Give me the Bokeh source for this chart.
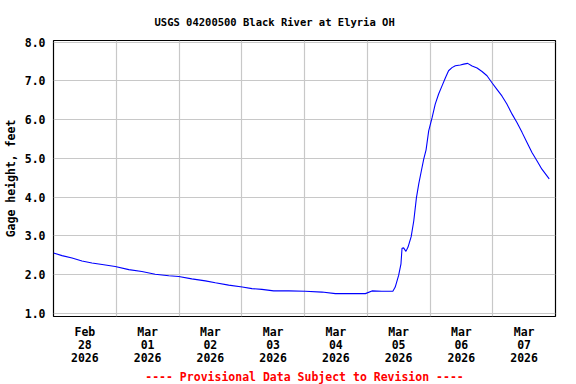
import pandas as pd
from bokeh.plotting import figure
from bokeh.models import Range1d, FixedTicker, ColumnDataSource
from bokeh.embed import file_html
from bokeh.resources import INLINE

# ---- data ----
times = [
    "2026-02-28 00:00", "2026-02-28 03:15", "2026-02-28 07:06", "2026-02-28 10:54",
    "2026-02-28 14:42", "2026-02-28 18:36", "2026-02-28 23:36", "2026-03-01 04:48",
    "2026-03-01 09:48", "2026-03-01 14:54", "2026-03-01 20:06", "2026-03-01 23:54",
    "2026-03-02 04:54", "2026-03-02 10:06", "2026-03-02 13:54", "2026-03-02 19:00",
    "2026-03-03 00:12", "2026-03-03 03:54", "2026-03-03 07:42", "2026-03-03 12:12",
    "2026-03-03 18:00", "2026-03-04 00:18", "2026-03-04 06:42", "2026-03-04 11:48",
    "2026-03-04 18:12", "2026-03-04 23:18", "2026-03-05 01:48", "2026-03-05 05:36",
    "2026-03-05 09:48", "2026-03-05 10:42", "2026-03-05 12:00", "2026-03-05 12:54",
    "2026-03-05 13:18", "2026-03-05 13:54", "2026-03-05 14:48", "2026-03-05 15:36",
    "2026-03-05 16:48", "2026-03-05 17:48", "2026-03-05 18:48", "2026-03-05 19:42",
    "2026-03-05 20:42", "2026-03-05 21:36", "2026-03-05 22:30", "2026-03-05 23:30",
    "2026-03-06 00:48", "2026-03-06 02:00", "2026-03-06 03:18", "2026-03-06 04:36",
    "2026-03-06 05:54", "2026-03-06 07:06", "2026-03-06 08:24", "2026-03-06 09:42",
    "2026-03-06 11:36", "2026-03-06 12:54", "2026-03-06 14:24", "2026-03-06 16:06",
    "2026-03-06 18:00", "2026-03-06 19:54", "2026-03-06 21:48", "2026-03-06 23:42",
    "2026-03-07 01:36", "2026-03-07 03:30", "2026-03-07 05:24", "2026-03-07 07:24",
    "2026-03-07 09:18", "2026-03-07 11:12", "2026-03-07 13:06", "2026-03-07 15:00",
    "2026-03-07 16:54", "2026-03-07 18:48", "2026-03-07 21:36",
]
gage_ft = [
    2.56, 2.49, 2.43, 2.35,
    2.30, 2.26, 2.21, 2.13,
    2.08, 2.01, 1.97, 1.95,
    1.89, 1.84, 1.79, 1.73,
    1.68, 1.64, 1.62, 1.58,
    1.58, 1.57, 1.55, 1.51,
    1.51, 1.51, 1.58, 1.57,
    1.57, 1.68, 1.98, 2.28,
    2.68, 2.69, 2.60, 2.71,
    2.98, 3.39, 3.98, 4.34,
    4.68, 4.98, 5.22, 5.71,
    6.05, 6.40, 6.66, 6.87,
    7.08, 7.26, 7.34, 7.39,
    7.41, 7.43, 7.45, 7.38,
    7.33, 7.24, 7.13, 6.95,
    6.78, 6.61, 6.40, 6.14,
    5.92, 5.67, 5.41, 5.15,
    4.94, 4.72, 4.47,
]
days = ["2026-02-28", "2026-03-01", "2026-03-02", "2026-03-03",
        "2026-03-04", "2026-03-05", "2026-03-06", "2026-03-07"]
y_ticks = [1, 2, 3, 4, 5, 6, 7, 8]
y_tick_labels = ["1.0", "2.0", "3.0", "4.0", "5.0", "6.0", "7.0", "8.0"]

title_text = "USGS 04200500 Black River at Elyria OH"
y_label = "Gage height, feet"
footer_text = "---- Provisional Data Subject to Revision ----"

# ---- build ----
FONT = "DejaVu Sans Mono"


def ms(ts):
    return pd.Timestamp(ts).timestamp() * 1000.0


day_ms = [ms(d) for d in days]
one_day = 86400000.0
noon_ms = [d + one_day / 2 for d in day_ms]
midnight_ms = day_ms[1:]
x_start = day_ms[0]
x_end = day_ms[-1] + one_day

src = ColumnDataSource(dict(t=pd.to_datetime(times), v=gage_ft))

p = figure(frame_width=502, frame_height=276, output_backend="svg",
           toolbar_location=None, x_axis_type="datetime",
           x_range=Range1d(x_start, x_end), y_range=Range1d(0.92, 8.04),
           min_border_left=52, min_border_right=22, min_border_top=40,
           min_border_bottom=68)

p.line("t", "v", source=src, line_color="#0000ff", line_width=1.1)

p.outline_line_color = "black"
p.outline_line_width = 1.2
p.background_fill_color = "white"
p.border_fill_color = "white"

# title
p.title.text = title_text
p.title.text_font = FONT
p.title.text_font_style = "bold"
p.title.text_font_size = "10.5px"
p.title.align = "left"
p.title.offset = 101
p.title.standoff = 25
p.title.text_color = "black"

# x axis
xa = p.xaxis[0]
xa.ticker = FixedTicker(ticks=noon_ms)
xa.major_label_overrides = {n: pd.Timestamp(d).strftime("%b\n%d\n%Y")
                            for n, d in zip(noon_ms, days)}
xa.major_label_text_font = FONT
xa.major_label_text_font_style = "bold"
xa.major_label_text_font_size = "11.5px"
xa.major_label_text_line_height = 0.95
xa.major_label_text_color = "black"
xa.major_label_standoff = 8
xa.major_tick_in = 0
xa.major_tick_out = 0
xa.major_tick_line_color = None
xa.minor_tick_line_color = None
xa.axis_line_color = None
xa.axis_label = footer_text
xa.axis_label_text_color = "#ff0000"
xa.axis_label_text_font = FONT
xa.axis_label_text_font_style = "bold"
xa.axis_label_text_font_size = "11.5px"
xa.axis_label_standoff = 2

# y axis
ya = p.yaxis[0]
ya.ticker = FixedTicker(ticks=y_ticks)
ya.major_label_overrides = {t: l for t, l in zip(y_ticks, y_tick_labels)}
ya.major_label_text_font = FONT
ya.major_label_text_font_style = "bold"
ya.major_label_text_font_size = "11.5px"
ya.major_label_text_color = "black"
ya.major_label_standoff = 8
ya.major_tick_in = 0
ya.major_tick_out = 0
ya.major_tick_line_color = None
ya.minor_tick_line_color = None
ya.axis_line_color = None
ya.axis_label = y_label
ya.axis_label_text_font = FONT
ya.axis_label_text_font_style = "bold"
ya.axis_label_text_font_size = "11.5px"
ya.axis_label_text_color = "black"
ya.axis_label_standoff = 4

# grids
p.xgrid.ticker = FixedTicker(ticks=midnight_ms)
p.ygrid.ticker = FixedTicker(ticks=y_ticks)
for g in (p.xgrid[0], p.ygrid[0]):
    g.grid_line_color = "#c8c8c8"
    g.grid_line_width = 1.2

open("out.html", "w").write(file_html(p, INLINE))
